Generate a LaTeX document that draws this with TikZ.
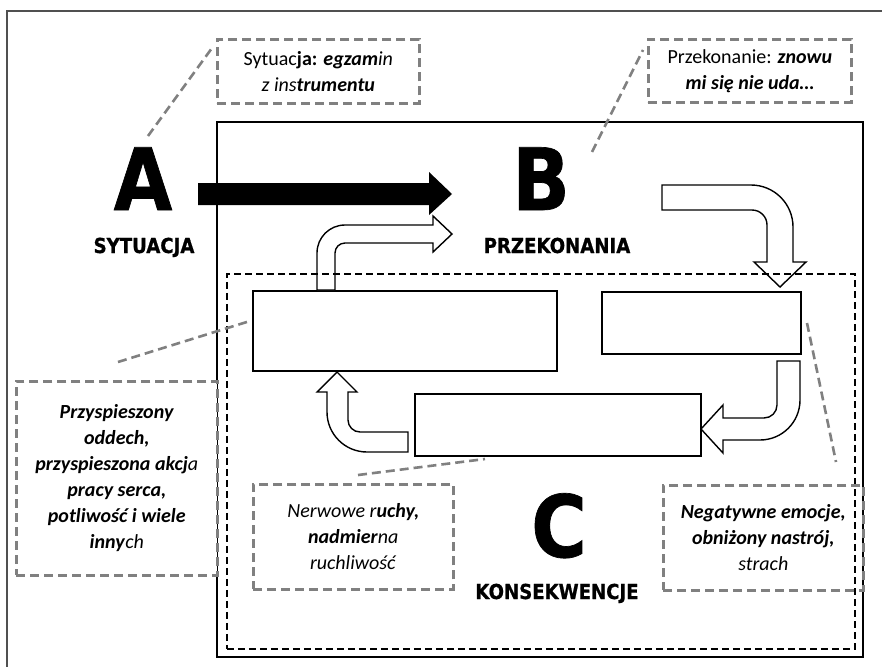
\documentclass[tikz,border=0pt]{standalone}
\usepackage{fontspec}
\setmainfont{Carlito}
\newfontfamily\heavy[FakeStretch=0.88,FakeBold=0.8]{DejaVu Sans}
\definecolor{calgray}{HTML}{808080}
\definecolor{framegray}{HTML}{505050}
\begin{document}
\begin{tikzpicture}[x=1pt,y=-1pt,
  callout/.style={draw=calgray, line width=2.6pt, dash pattern=on 9pt off 5pt,
    inner sep=0pt, anchor=north west, align=center,
    font=\fontsize{20}{26}\selectfont},
  leader/.style={draw=calgray, line width=2.6pt, dash pattern=on 9pt off 5pt},
  blockbox/.style={draw=black, line width=1.8pt, fill=white, inner sep=0pt, anchor=north west},
  hollow/.style={draw=black, line width=1.4pt, fill=white, line join=miter},
  bigletter/.style={font=\heavy\bfseries\fontsize{86}{86}\selectfont, inner sep=0pt, anchor=base},
  steplabel/.style={font=\heavy\bfseries\fontsize{20.6}{24}\selectfont, inner sep=0pt, anchor=base}
]
\useasboundingbox (0,0) rectangle (882,667);
\fill[white] (0,0) rectangle (882,667);

% outer frame (top and left visible)
\coordinate (f1) at (882,11);
\coordinate (f2) at (7,11);
\coordinate (f3) at (7,667);
\draw[framegray, line width=1.5pt] (f1) -- (f2) -- (f3);

% main solid rectangle
\node[draw=black, line width=1.8pt, inner sep=0pt, anchor=north west,
      minimum width=646pt, minimum height=535pt] (main) at (216,121) {};

% block rectangles
\node[blockbox, minimum width=304pt, minimum height=80pt] (r1) at (252,290) {};
\node[blockbox, minimum width=199pt, minimum height=62pt] (r2) at (601,291) {};
\node[blockbox, minimum width=286pt, minimum height=62pt] (r3) at (414,393) {};

% hollow arrows
\draw[hollow] (317,290) -- (317,253) .. controls (317,237.5) and (329.5,225) .. (345,225)
  -- (433,225) -- (433,216) -- (452,234) -- (433,252) -- (433,243) -- (345,243)
  .. controls (339.5,243) and (335,247.5) .. (335,253) -- (335,290) -- cycle;
\draw[hollow] (662,185) -- (751,185) .. controls (774.2,185) and (793,203.8) .. (793,227)
  -- (793,262) -- (806,262) -- (780,287) -- (754,262) -- (767,262) -- (767,225)
  .. controls (767,216.7) and (760.3,210) .. (752,210) -- (662,210) -- cycle;
\draw[hollow] (777,361) -- (800,361) -- (800,400) .. controls (800,422.1) and (782.1,440) .. (760,440)
  -- (723,440) -- (723,453) -- (701,429) -- (723,405) -- (723,418) -- (764,418)
  .. controls (771.2,418) and (777,412.2) .. (777,405) -- cycle;
\draw[hollow] (408,432) -- (360,432) .. controls (353.4,432) and (348,426.6) .. (348,420)
  -- (348,392) -- (357,392) -- (337,372) -- (317,392) -- (327,392) -- (327,412)
  .. controls (327,434.1) and (344.9,452) .. (367,452) -- (408,452) -- cycle;

% inner dashed rectangle
\node[draw=black, line width=1.8pt, dash pattern=on 7pt off 4pt, inner sep=0pt, anchor=north west,
      minimum width=628pt, minimum height=375pt] (inner) at (226,273) {};

% big black arrow A -> B
\fill[black] (198,183) -- (429,183) -- (429,172) -- (452,194) -- (429,215) -- (429,205) -- (198,205) -- cycle;

% letters and labels
\node[bigletter] (A) at (143,210) {A};
\node[bigletter] (B) at (541,210) {B};
\node[bigletter] (C) at (559,557) {C};
\node[steplabel] (sit) at (144,253) {SYTUACJA};
\node[steplabel] (prz) at (557,253) {PRZEKONANIA};
\node[steplabel] (kon) at (557,599) {KONSEKWENCJE};

% leader lines
\coordinate (la1) at (148,136); \coordinate (la2) at (212,48);
\coordinate (lb1) at (592,152); \coordinate (lb2) at (643,50);
\coordinate (lc1) at (118,362); \coordinate (lc2) at (250,321);
\coordinate (ld1) at (358,475); \coordinate (ld2) at (485,459);
\coordinate (le1) at (807,323); \coordinate (le2) at (836,462);
\draw[leader] (la1) -- (la2);
\draw[leader] (lb1) -- (lb2);
\draw[leader] (lc1) -- (lc2);
\draw[leader] (ld1) -- (ld2);
\draw[leader] (le1) -- (le2);

% callout boxes
\node[callout, minimum width=202pt, minimum height=64pt] (c1) at (216,38)
  {Sytuac\textbf{ja: \textit{egzam}}\textit{in}\\\textit{z ins\textbf{trumentu}}};
\node[callout, minimum width=203pt, minimum height=63pt] (c2) at (647,38)
  {Przekonanie: \textbf{\textit{znowu}}\\\textbf{\textit{mi się nie uda…}}};
\node[callout, fill=white, minimum width=201pt, minimum height=194pt] (c3) at (15,380)
  {\textbf{\textit{Przyspieszony}}\\\textbf{\textit{oddech,}}\\\textbf{\textit{przyspieszona akcj}}\textit{a}\\\textbf{\textit{pracy serca,}}\\\textbf{\textit{potliwość i wiele}}\\\textbf{\textit{inny}}\textit{ch}};
\node[callout, minimum width=200pt, minimum height=105pt] (c4) at (252,483)
  {\textit{Nerwowe r}\textbf{\textit{uchy,}}\\\textbf{\textit{nadmier}}\textit{na}\\\textit{ruchliwość}};
\node[callout, minimum width=200pt, minimum height=105pt] (c5) at (662,484)
  {\textbf{\textit{Negatywne emocje,}}\\\textbf{\textit{obniżony nastrój,}}\\\textit{strach}};
\end{tikzpicture}
\end{document}
